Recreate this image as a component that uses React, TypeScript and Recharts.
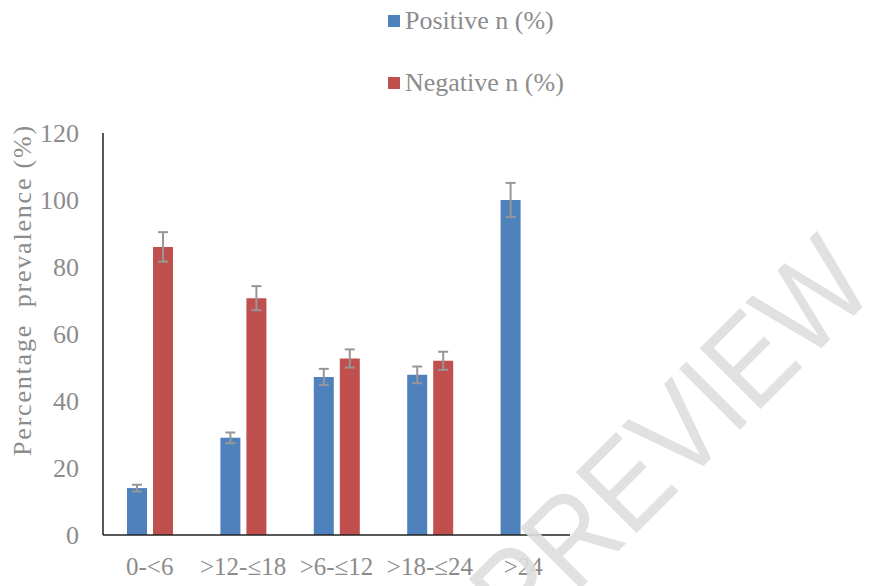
import React from "react";
import { BarChart, Bar, XAxis, YAxis, ErrorBar } from "recharts";

const ageGroups = ["0-<6", ">12-≤18", ">6-≤12", ">18-≤24", ">24"];
const positivePct = [14, 29, 47.2, 47.8, 100];
const positiveErr = [1, 1.6, 2.4, 2.5, 5.1];
const negativePct = [86, 70.7, 52.7, 52, 0];
const negativeErr = [4.4, 3.6, 2.7, 2.7, 0];
const yTicks = [0, 20, 40, 60, 80, 100, 120];

const BLUE = "#4f81bd";
const RED = "#c0504d";
const TEXT = "#8c8c8c";
const FONT = "'Liberation Serif', 'Times New Roman', serif";

const rows = ageGroups.map((g, i) => ({
  group: g,
  positive: positivePct[i],
  positiveErr: positiveErr[i] || null,
  negative: negativePct[i],
  negativeErr: negativeErr[i] || null,
}));

// legend sits above the plot, outside the chart so it does not shrink the plot area
function LegendBox() {
  const items = [
    { label: "Positive n (%)", color: BLUE },
    { label: "Negative n (%)", color: RED },
  ];
  return (
    <div
      style={{
        position: "absolute",
        left: 388,
        top: 5,
        fontFamily: FONT,
        fontSize: 26,
        color: TEXT,
        lineHeight: "32px",
      }}
    >
      {items.map((it) => (
        <div key={it.label} style={{ display: "flex", alignItems: "center", height: 32, marginBottom: 30 }}>
          <span style={{ width: 12, height: 12, background: it.color, marginRight: 5, display: "inline-block" }} />
          <span>{it.label}</span>
        </div>
      ))}
    </div>
  );
}

function YLabel() {
  const cx = 22;
  const cy = 290;
  return (
    <text
      x={cx}
      y={cy}
      transform={`rotate(-90 ${cx} ${cy})`}
      textAnchor="middle"
      dominantBaseline="central"
      fill={TEXT}
      fontFamily={FONT}
      fontSize={26}
      letterSpacing={1.8}
      style={{ whiteSpace: "pre" }}
    >
      {"Percentage  prevalence (%)"}
    </text>
  );
}

export default function App() {
  return (
    <div style={{ position: "absolute", left: 0, top: 0, width: 873, height: 586, background: "#fff" }}>
      <BarChart
        width={873}
        height={586}
        data={rows}
        margin={{ top: 133, right: 303, bottom: 21, left: 43 }}
        barSize={20}
        barGap={6}
      >
        <XAxis
          dataKey="group"
          height={30}
          axisLine={{ stroke: "#222", strokeWidth: 1.5 }}
          tickLine={false}
          tickSize={0}
          tickMargin={22}
          tick={{ fill: TEXT, fontSize: 25, fontFamily: FONT }}
          interval={0}
        />
        <YAxis
          width={60}
          domain={[0, 120]}
          ticks={yTicks}
          axisLine={{ stroke: "#222", strokeWidth: 1.5 }}
          tickLine={false}
          tickSize={0}
          tickMargin={24}
          tick={{ fill: TEXT, fontSize: 26, fontFamily: FONT }}
          label={<YLabel />}
        />
        <Bar dataKey="positive" fill={BLUE} isAnimationActive={false}>
          <ErrorBar dataKey="positiveErr" width={5} stroke="#979797" strokeWidth={2} isAnimationActive={false} />
        </Bar>
        <Bar dataKey="negative" fill={RED} isAnimationActive={false}>
          <ErrorBar dataKey="negativeErr" width={5} stroke="#979797" strokeWidth={2} isAnimationActive={false} />
        </Bar>
      </BarChart>
      <LegendBox />
      <svg width={873} height={586} style={{ position: "absolute", left: 0, top: 0, pointerEvents: "none" }}>
        <text
          x={670}
          y={438}
          transform="rotate(-45 670 438)"
          textAnchor="middle"
          dominantBaseline="central"
          fontFamily="'Liberation Sans', Arial, sans-serif"
          fontSize={125}
          textLength={502}
          lengthAdjust="spacingAndGlyphs"
          fill="#dedede"
          opacity={0.9}
        >
          PREVIEW
        </text>
      </svg>
    </div>
  );
}
